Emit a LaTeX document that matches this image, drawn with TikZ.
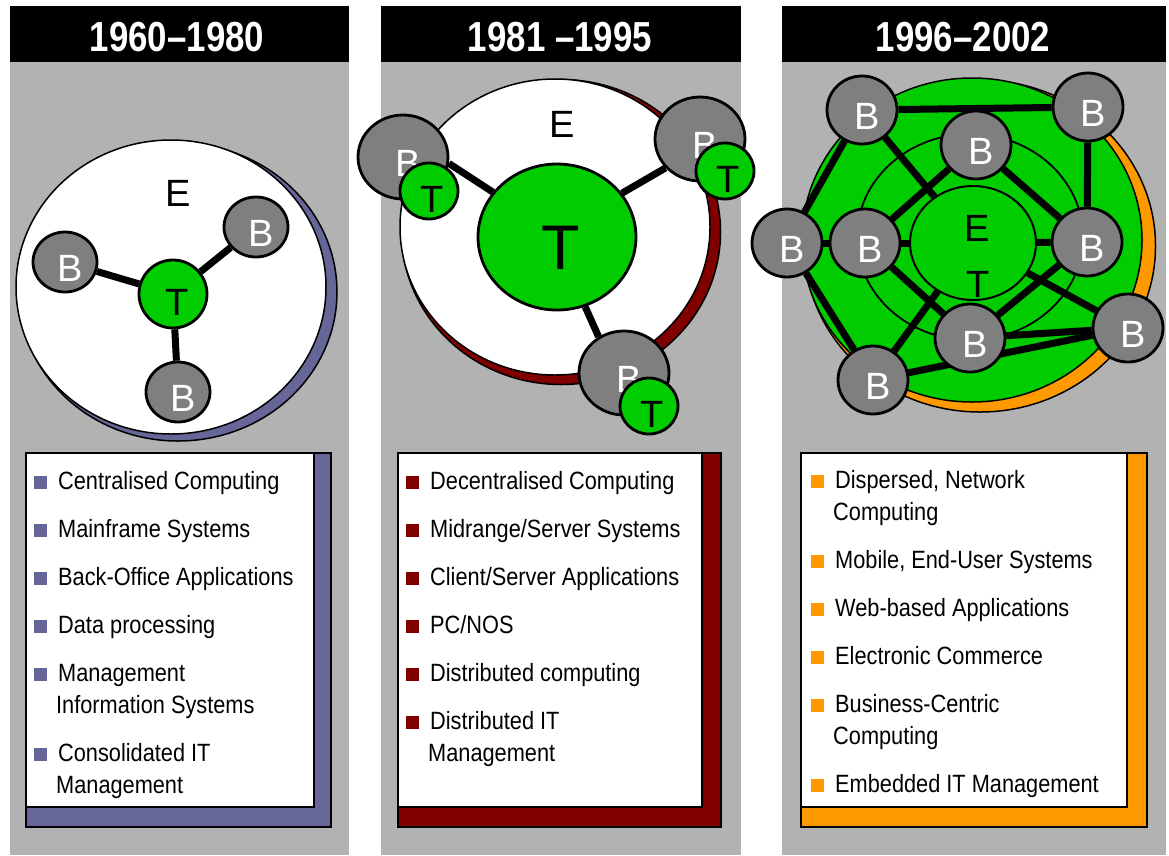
\documentclass[tikz,border=0pt]{standalone}
\usepackage{fontspec}
\setmainfont{Liberation Sans}
\newfontfamily\yearfont[FakeStretch=0.83]{Liberation Sans}
\newfontfamily\itemfont[FakeStretch=0.87]{Liberation Sans}
\usetikzlibrary{shapes.geometric}

\definecolor{panelgray}{HTML}{B2B2B2}
\definecolor{nodegray}{HTML}{7F7F7F}
\definecolor{techgreen}{HTML}{00CC00}
\definecolor{bluegray}{HTML}{666699}
\definecolor{darkred}{HTML}{800000}
\definecolor{orange}{HTML}{FF9900}

\pgfdeclarelayer{back}
\pgfdeclarelayer{links}
\pgfsetlayers{back,links,main}

\tikzset{
  year/.style={text=white, font=\yearfont\bfseries\fontsize{42}{42}\selectfont, inner sep=0pt},
  env/.style={ellipse, draw=black, line width=1.5pt, inner sep=0pt},
  bnode/.style={ellipse, draw=black, line width=2.8pt, fill=nodegray, inner sep=0pt, label={[bltr]center:B}},
  tnode/.style={ellipse, draw=black, line width=2.8pt, fill=techgreen, inner sep=0pt},
  bltr/.style={text=white, font=\fontsize{38}{38}\selectfont, xshift=5pt, yshift=-6pt},
  tltr/.style={font=\fontsize{38}{38}\selectfont, xshift=3pt, yshift=-8pt},
  ltr/.style={font=\fontsize{38}{38}\selectfont, inner sep=0pt},
  link/.style={line width=7pt},
  shbox/.style={draw=black, line width=1.5pt},
  bullet/.style={minimum size=13pt, inner sep=0pt},
  item/.style={anchor=base west, inner sep=0pt, font=\itemfont\fontsize{25}{25}\selectfont},
}

\begin{document}
\begin{tikzpicture}[x=1pt,y=-1pt]
\useasboundingbox (0,0) rectangle (1169,855);

\begin{pgfonlayer}{back}
  \fill[panelgray] (10,62) rectangle (349,855);
  \fill[panelgray] (381,62) rectangle (741,855);
  \fill[panelgray] (782,62) rectangle (1166,855);
  \fill[black] (10,6) rectangle (349,62);
  \fill[black] (381,6) rectangle (741,62);
  \fill[black] (782,6) rectangle (1166,62);
  \node[env, fill=bluegray, minimum width=318pt, minimum height=298pt] (env1s) at (178,292) {};
  \node[env, fill=white, minimum width=310pt, minimum height=294pt] (env1) at (171,287) {};
  \node[env, fill=darkred, minimum width=319pt, minimum height=305pt] (env2s) at (561,232) {};
  \node[env, fill=white, minimum width=310pt, minimum height=296pt] (env2) at (555,227) {};
  \node[env, fill=orange, minimum width=351pt, minimum height=332pt] (env3s) at (980,246) {};
  \node[env, fill=techgreen, minimum width=340pt, minimum height=324pt] (env3) at (972,240) {};
  \node[env, line width=1.8pt, minimum width=226pt, minimum height=206pt] (ring) at (970,237) {};
\end{pgfonlayer}

\node[year] (y1) at (177,37) {1960–1980};
\node[year] (y2) at (560,37) {1981 –1995};
\node[year] (y3) at (963,37) {1996–2002};

\node[ltr] (e1) at (178,193) {E};
\node[tnode, minimum size=68pt, label={[tltr, xshift=1pt]center:T}] (t1) at (173,294) {};
\node[bnode, minimum width=64pt, minimum height=60pt] (b11) at (65,262) {};
\node[bnode, minimum width=64pt, minimum height=60pt] (b12) at (256,227) {};
\node[bnode, minimum width=64pt, minimum height=60pt] (b13) at (178,392) {};

\node[ltr] (e2) at (562,124) {E};
\node[tnode, minimum width=158pt, minimum height=146pt, label={[font=\fontsize{63}{63}\selectfont, xshift=4pt, yshift=-11pt]center:T}] (bigT) at (557,237) {};
\node[bnode, minimum width=90pt, minimum height=84pt] (pb1) at (403,157) {};
\node[tnode, minimum width=58pt, minimum height=56pt, label={[tltr]center:T}] (pt1) at (429,191) {};
\node[bnode, minimum width=90pt, minimum height=84pt] (pb2) at (700,139) {};
\node[tnode, minimum width=58pt, minimum height=56pt, label={[tltr]center:T}] (pt2) at (725,171) {};
\node[bnode, minimum width=90pt, minimum height=84pt] (pb3) at (624,373) {};
\node[tnode, minimum width=58pt, minimum height=56pt, label={[tltr]center:T}] (pt3) at (649,406) {};

\node[tnode, line width=2pt, minimum width=126pt, minimum height=114pt] (ct) at (973,243) {};
\node[ltr] (e3) at (977,228) {E};
\node[ltr] (t3) at (978,284) {T};
\node[bnode, minimum width=70pt, minimum height=68pt] (b1) at (862,110) {};
\node[bnode, minimum width=70pt, minimum height=68pt] (b2) at (1088,107) {};
\node[bnode, minimum width=70pt, minimum height=68pt] (b3) at (976,145) {};
\node[bnode, minimum width=70pt, minimum height=68pt] (b4) at (787,243) {};
\node[bnode, minimum width=70pt, minimum height=68pt] (b5) at (865,243) {};
\node[bnode, minimum width=70pt, minimum height=68pt] (b6) at (1087,242) {};
\node[bnode, minimum width=70pt, minimum height=68pt] (b7) at (970,338) {};
\node[bnode, minimum width=70pt, minimum height=68pt] (b8) at (1128,328) {};
\node[bnode, minimum width=70pt, minimum height=68pt] (b9) at (873,380) {};

\begin{pgfonlayer}{links}
  \draw[link] (t1) -- (b11);
  \draw[link] (t1) -- (b12);
  \draw[link] (t1) -- (b13);
  \draw[link] (pb1.-8) -- (bigT.145);
  \draw[link] (bigT.34) -- (pb2.220);
  \draw[link] (bigT.-68) -- (pb3.125);
  \foreach \a/\b in {b1/b2, b2/b6, b1/b4, b4/b9, b9/b8, b7/b8, b1/ct, b3/b5, b3/b6,
                     b5/ct, b6/ct, b4/b5, b5/b7, b9/ct, b6/b7, ct/b8}
    \draw[link] (\a) -- (\b);
\end{pgfonlayer}

\draw[shbox, fill=bluegray] (26,453) rectangle (331,827);
\draw[shbox, fill=white] (26,453) rectangle (314,807);
\foreach \y/\t in {489/Centralised Computing, 537/Mainframe Systems, 585/Back-Office Applications,
                   633/Data processing, 681/Management, 761/Consolidated IT} {
  \node[bullet, fill=bluegray] (sqa\y) at (40,\y-7) {};
  \node[item] (ita\y) at (58,\y) {\t};
}
\foreach \y/\t in {713/Information Systems, 793/Management}
  \node[item] (ita\y) at (56,\y) {\t};

\draw[shbox, fill=darkred] (398,453) rectangle (721,827);
\draw[shbox, fill=white] (398,453) rectangle (702,807);
\foreach \y/\t in {489/Decentralised Computing, 537/{Midrange/Server Systems}, 585/{Client/Server Applications},
                   633/{PC/NOS}, 681/Distributed computing, 729/Distributed IT} {
  \node[bullet, fill=darkred] (sqb\y) at (412,\y-7) {};
  \node[item] (itb\y) at (430,\y) {\t};
}
\node[item] (itb761) at (428,761) {Management};

\draw[shbox, fill=orange] (801,453) rectangle (1147,827);
\draw[shbox, fill=white] (801,453) rectangle (1127,807);
\foreach \y/\t in {488/{Dispersed, Network}, 568/{Mobile, End-User Systems}, 616/Web-based Applications,
                   664/Electronic Commerce, 712/Business-Centric, 792/Embedded IT Management} {
  \node[bullet, fill=orange] (sqc\y) at (817,\y-7) {};
  \node[item] (itc\y) at (835,\y) {\t};
}
\foreach \y in {520,744}
  \node[item] (itc\y) at (833,\y) {Computing};
\end{tikzpicture}
\end{document}
